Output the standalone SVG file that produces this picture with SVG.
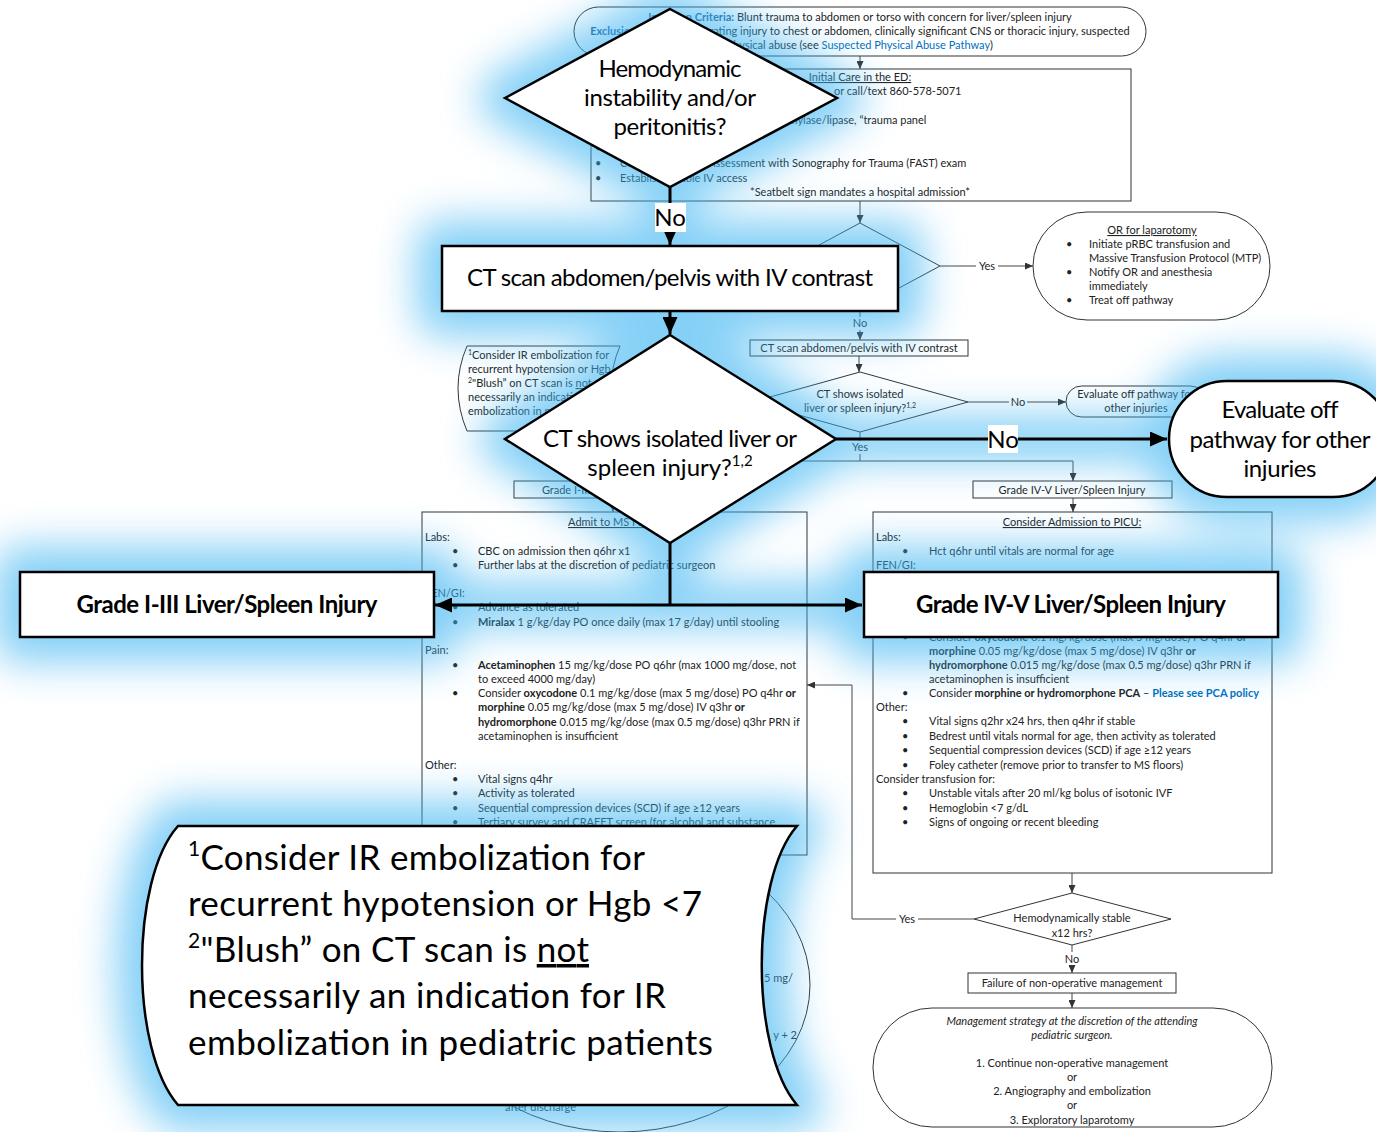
<svg xmlns="http://www.w3.org/2000/svg" width="1376" height="1132" viewBox="0 0 1376 1132">
<defs>
<style>
text{font-family:Lato,'Liberation Sans',sans-serif}
.s{font-size:11px;fill:#222}
.sc{font-size:11px;fill:#222;text-anchor:middle}
.bb{fill:#fff;stroke:#333;stroke-width:1}
.bl{fill:none;stroke:#444;stroke-width:1}
.lb{fill:#fff}
.ov{fill:#fff;stroke:#000;stroke-width:2.5}
.ot{font-size:24px;fill:#000;text-anchor:middle}
.ft{font-size:35px;fill:#000}
.b{font-weight:bold}
.lk{fill:#0070c0}
.u{text-decoration:underline}
.gl{fill:#3bb4f2;stroke:#3bb4f2;stroke-width:52;stroke-linejoin:round}
.gc{fill:none;stroke:#3bb4f2;stroke-width:46}
.oc{fill:none;stroke:#000;stroke-width:3}
</style>
<filter id="blur" x="-10%" y="-10%" width="120%" height="120%"><feGaussianBlur stdDeviation="20"/></filter>
<marker id="ah" viewBox="0 0 10 10" refX="10" refY="5" markerWidth="17" markerHeight="15" markerUnits="userSpaceOnUse" orient="auto" preserveAspectRatio="none"><path d="M0,0 L10,5 L0,10 Z" fill="#000"/></marker>
<marker id="sa" viewBox="0 0 10 10" refX="10" refY="5" markerWidth="8" markerHeight="7" markerUnits="userSpaceOnUse" orient="auto" preserveAspectRatio="none"><path d="M0,0 L10,5 L0,10 Z" fill="#333"/></marker>
</defs>
<rect x="0" y="0" width="1376" height="1132" fill="#fff"/>

<!-- ===== background flowchart ===== -->
<g id="bg-connectors">
<path class="bl" d="M860,56 V69" marker-end="url(#sa)"/>
<path class="bl" d="M860,201 V223" marker-end="url(#sa)"/>
<path class="bl" d="M940,266 H1033" marker-end="url(#sa)"/>
<path class="bl" d="M860,309 V340" marker-end="url(#sa)"/>
<path class="bl" d="M859,356 V372" marker-end="url(#sa)"/>
<path class="bl" d="M968,402 H1066" marker-end="url(#sa)"/>
<path class="bl" d="M860,432 V461 M613,461 H1073"/>
<path class="bl" d="M1073,461 V481" marker-end="url(#sa)"/>
<path class="bl" d="M613,461 V481" marker-end="url(#sa)"/>
<path class="bl" d="M1073,498 V512" marker-end="url(#sa)"/>
<path class="bl" d="M613,498 V512" marker-end="url(#sa)"/>
<path class="bl" d="M1072,873 V893" marker-end="url(#sa)"/>
<path class="bl" d="M974,919 H852 V685 H807" marker-end="url(#sa)"/>
<path class="bl" d="M1072,945 V973" marker-end="url(#sa)"/>
<path class="bl" d="M1072,993 V1008" marker-end="url(#sa)"/>
<rect class="lb" x="976" y="259" width="22" height="13"/><text class="sc" x="987" y="270">Yes</text>
<rect class="lb" x="851" y="317" width="18" height="13"/><text class="sc" x="860" y="327">No</text>
<rect class="lb" x="1009" y="395" width="18" height="13"/><text class="sc" x="1018" y="406">No</text>
<rect class="lb" x="849" y="441" width="22" height="13"/><text class="sc" x="860" y="451">Yes</text>
<rect class="lb" x="896" y="912" width="22" height="13"/><text class="sc" x="907" y="923">Yes</text>
<rect class="lb" x="1063" y="952" width="18" height="13"/><text class="sc" x="1072" y="963">No</text>
</g>

<g id="bg-criteria">
<rect class="bb" x="574" y="7" width="572" height="49" rx="24.5"/>
<text class="sc" x="860" y="21"><tspan class="b" fill="#1f5f9f">Inclusion Criteria:</tspan> Blunt trauma to abdomen or torso with concern for liver/spleen injury</text>
<text class="sc" x="860" y="35"><tspan class="b" fill="#1f5f9f">Exclusion Criteria:</tspan> Penetrating injury to chest or abdomen, clinically significant CNS or thoracic injury, suspected</text>
<text class="sc" x="860" y="49">physical abuse (see <tspan class="lk">Suspected Physical Abuse Pathway</tspan>)</text>
</g>

<g id="bg-initial">
<rect class="bb" x="591" y="69" width="540" height="132"/>
<text class="sc u" x="860" y="81">Initial Care in the ED:</text>
<text class="s" x="834" y="95">or call/text 860-578-5071</text>
<text class="s" x="783" y="124">amylase/lipase, “trauma panel</text>
<text class="s" y="152"><tspan x="595">•</tspan></text>
<text class="s" y="167"><tspan x="595">•</tspan><tspan x="620">Consider Focused Assessment with Sonography for Trauma (FAST) exam</tspan></text>
<text class="s" y="182"><tspan x="595">•</tspan><tspan x="620">Establish reliable IV access</tspan></text>
<text class="sc" x="860" y="196">*Seatbelt sign mandates a hospital admission*</text>
</g>

<g id="bg-hemo-small"><path class="bb" d="M860,223 L940,266 L860,309 L780,266 Z"/></g>

<g id="bg-or">
<rect class="bb" x="1033" y="212" width="237" height="108" rx="54"/>
<text class="sc u" x="1152" y="234">OR for laparotomy</text>
<text class="s" y="248"><tspan x="1066">•</tspan><tspan x="1089">Initiate pRBC transfusion and</tspan></text>
<text class="s" x="1089" y="262">Massive Transfusion Protocol (MTP)</text>
<text class="s" y="276"><tspan x="1066">•</tspan><tspan x="1089">Notify OR and anesthesia</tspan></text>
<text class="s" x="1089" y="290">immediately</text>
<text class="s" y="304"><tspan x="1066">•</tspan><tspan x="1089">Treat off pathway</tspan></text>
</g>

<g id="bg-ct-small">
<rect class="bb" x="750" y="340" width="218" height="16"/>
<text class="sc" x="859" y="352">CT scan abdomen/pelvis with IV contrast</text>
</g>

<g id="bg-ctshows-small">
<path class="bb" d="M860,372 L968,402 L860,432 L752,402 Z"/>
<text class="sc" x="860" y="398">CT shows isolated</text>
<text class="sc" x="860" y="412">liver or spleen injury?<tspan font-size="7" dy="-4">1,2</tspan></text>
</g>

<g id="bg-evaluate-small">
<rect class="bb" x="1066" y="386" width="140" height="31" rx="15.5"/>
<text class="sc" x="1136" y="398">Evaluate off pathway for</text>
<text class="sc" x="1136" y="412">other injuries</text>
</g>

<g id="bg-note-small">
<path class="bb" d="M467,346 L620,346 Q602,388 620,431 L467,431 Q449,388 467,346 Z"/>
<text class="s" x="468" y="359"><tspan font-size="7" dy="-4">1</tspan><tspan dy="4">Consider IR embolization for</tspan></text>
<text class="s" x="468" y="373">recurrent hypotension or Hgb &lt;7</text>
<text class="s" x="468" y="387"><tspan font-size="7" dy="-4">2</tspan><tspan dy="4">"Blush” on CT scan is </tspan><tspan class="u">not</tspan></text>
<text class="s" x="468" y="401">necessarily an indication for IR</text>
<text class="s" x="468" y="415">embolization in pediatric patients</text>
</g>

<g id="bg-grade13-small">
<rect class="bb" x="514" y="481" width="199" height="17"/>
<text class="sc" x="613" y="494">Grade I-III Liver/Spleen Injury</text>
</g>
<g id="bg-grade45-small">
<rect class="bb" x="973" y="481" width="199" height="17"/>
<text class="sc" x="1072" y="494">Grade IV-V Liver/Spleen Injury</text>
</g>

<g id="bg-discharge">
<ellipse class="bb" cx="620" cy="985" rx="190" ry="147"/>
<text class="s" x="793" y="982" text-anchor="end">5 mg/</text>
<text class="s" x="797" y="1039" text-anchor="end">y + 2</text>
<text class="s" x="505" y="1111">after discharge</text>
</g>

<g id="bg-ms">
<rect class="bb" x="422" y="512" width="385" height="343"/>
<text class="sc u" x="614" y="526">Admit to MS Floor:</text>
<text class="s" x="425" y="541">Labs:</text>
<text class="s" y="555"><tspan x="452">•</tspan><tspan x="478">CBC on admission then q6hr x1</tspan></text>
<text class="s" y="569"><tspan x="452">•</tspan><tspan x="478">Further labs at the discretion of pediatric surgeon</tspan></text>
<text class="s" x="425" y="597">FEN/GI:</text>
<text class="s" y="611"><tspan x="452">•</tspan><tspan x="478">Advance as tolerated</tspan></text>
<text class="s" y="626"><tspan x="452">•</tspan><tspan x="478" class="b">Miralax</tspan> 1 g/kg/day PO once daily (max 17 g/day) until stooling</text>
<text class="s" x="425" y="654">Pain:</text>
<text class="s" y="669"><tspan x="452">•</tspan><tspan x="478" class="b">Acetaminophen</tspan> 15 mg/kg/dose PO q6hr (max 1000 mg/dose, not</text>
<text class="s" x="478" y="683">to exceed 4000 mg/day)</text>
<text class="s" y="697"><tspan x="452">•</tspan><tspan x="478">Consider </tspan><tspan class="b">oxycodone</tspan> 0.1 mg/kg/dose (max 5 mg/dose) PO q4hr <tspan class="b">or</tspan></text>
<text class="s" x="478" y="711"><tspan class="b">morphine</tspan> 0.05 mg/kg/dose (max 5 mg/dose) IV q3hr <tspan class="b">or</tspan></text>
<text class="s" x="478" y="726"><tspan class="b">hydromorphone</tspan> 0.015 mg/kg/dose (max 0.5 mg/dose) q3hr PRN if</text>
<text class="s" x="478" y="740">acetaminophen is insufficient</text>
<text class="s" x="425" y="769">Other:</text>
<text class="s" y="783"><tspan x="452">•</tspan><tspan x="478">Vital signs q4hr</tspan></text>
<text class="s" y="797"><tspan x="452">•</tspan><tspan x="478">Activity as tolerated</tspan></text>
<text class="s" y="812"><tspan x="452">•</tspan><tspan x="478">Sequential compression devices (SCD) if age ≥12 years</tspan></text>
<text class="s" y="826"><tspan x="452">•</tspan><tspan x="478">Tertiary survey and CRAFFT screen (for alcohol and substance</tspan></text>
</g>

<g id="bg-picu">
<rect class="bb" x="873" y="512" width="399" height="361"/>
<text class="sc u" x="1072" y="526">Consider Admission to PICU:</text>
<text class="s" x="876" y="541">Labs:</text>
<text class="s" y="555"><tspan x="902">•</tspan><tspan x="929">Hct q6hr until vitals are normal for age</tspan></text>
<text class="s" x="876" y="569">FEN/GI:</text>
<text class="s" y="641"><tspan x="902">•</tspan><tspan x="929">Consider </tspan><tspan class="b">oxycodone</tspan> 0.1 mg/kg/dose (max 5 mg/dose) PO q4hr <tspan class="b">or</tspan></text>
<text class="s" x="929" y="655"><tspan class="b">morphine</tspan> 0.05 mg/kg/dose (max 5 mg/dose) IV q3hr <tspan class="b">or</tspan></text>
<text class="s" x="929" y="669"><tspan class="b">hydromorphone</tspan> 0.015 mg/kg/dose (max 0.5 mg/dose) q3hr PRN if</text>
<text class="s" x="929" y="683">acetaminophen is insufficient</text>
<text class="s" y="697"><tspan x="902">•</tspan><tspan x="929">Consider </tspan><tspan class="b">morphine or hydromorphone PCA</tspan> – <tspan class="b lk">Please see PCA policy</tspan></text>
<text class="s" x="876" y="711">Other:</text>
<text class="s" y="725"><tspan x="902">•</tspan><tspan x="929">Vital signs q2hr x24 hrs, then q4hr if stable</tspan></text>
<text class="s" y="740"><tspan x="902">•</tspan><tspan x="929">Bedrest until vitals normal for age, then activity as tolerated</tspan></text>
<text class="s" y="754"><tspan x="902">•</tspan><tspan x="929">Sequential compression devices (SCD) if age ≥12 years</tspan></text>
<text class="s" y="769"><tspan x="902">•</tspan><tspan x="929">Foley catheter (remove prior to transfer to MS floors)</tspan></text>
<text class="s" x="876" y="783">Consider transfusion for:</text>
<text class="s" y="797"><tspan x="902">•</tspan><tspan x="929">Unstable vitals after 20 ml/kg bolus of isotonic IVF</tspan></text>
<text class="s" y="812"><tspan x="902">•</tspan><tspan x="929">Hemoglobin &lt;7 g/dL</tspan></text>
<text class="s" y="826"><tspan x="902">•</tspan><tspan x="929">Signs of ongoing or recent bleeding</tspan></text>
</g>

<g id="bg-stable">
<path class="bb" d="M1072,893 L1171,919 L1072,945 L974,919 Z"/>
<text class="sc" x="1072" y="922">Hemodynamically stable</text>
<text class="sc" x="1072" y="937">x12 hrs?</text>
</g>

<g id="bg-failure">
<rect class="bb" x="968" y="973" width="208" height="20"/>
<text class="sc" x="1072" y="987">Failure of non-operative management</text>
</g>

<g id="bg-strategy">
<rect class="bb" x="873" y="1008" width="399" height="119" rx="59"/>
<text class="sc" x="1072" y="1025" font-style="italic">Management strategy at the discretion of the attending</text>
<text class="sc" x="1072" y="1039" font-style="italic">pediatric surgeon.</text>
<text class="sc" x="1072" y="1067">1. Continue non-operative management</text>
<text class="sc" x="1072" y="1081">or</text>
<text class="sc" x="1072" y="1095">2. Angiography and embolization</text>
<text class="sc" x="1072" y="1109">or</text>
<text class="sc" x="1072" y="1124">3. Exploratory laparotomy</text>
</g>

<!-- ===== glow ===== -->
<g id="glow" filter="url(#blur)" opacity="0.62">
<polygon class="gl" points="670,9 837,98 670,187 505,98"/>
<rect class="gl" x="442" y="246" width="456" height="65"/>
<polygon class="gl" points="670,335 836,439 670,543 505,439"/>
<rect class="gl" x="1169" y="381" width="222" height="116" rx="58"/>
<rect class="gl" x="20" y="572" width="414" height="65"/>
<rect class="gl" x="864" y="572" width="414" height="65"/>
<path class="gl" d="M178,826 L797,826 C750,880 750,1050 797,1105 L178,1105 C130,1050 130,880 178,826 Z"/>
<path class="gc" d="M670,187 V335 M836,439 H1168 M670,543 V605 M435,605 H862"/>
</g>

<!-- ===== overlay flowchart ===== -->
<g id="connectors">
<path class="oc" d="M670,187 V245" marker-end="url(#ah)"/>
<path class="oc" d="M670,311 V334" marker-end="url(#ah)"/>
<path class="oc" d="M836,439 H1167" marker-end="url(#ah)"/>
<path class="oc" d="M670,543 V605"/>
<path class="oc" d="M670,605 H435" marker-end="url(#ah)"/>
<path class="oc" d="M670,605 H862" marker-end="url(#ah)"/>
<rect x="655" y="203" width="31" height="29" fill="#fff"/>
<text class="ot" x="670" y="226">No</text>
<rect x="988" y="425" width="30" height="28" fill="#fff"/>
<text class="ot" x="1003" y="448">No</text>
</g>

<g id="node-hemodynamic">
<polygon class="ov" points="670,9 837,98 670,187 505,98"/>
<text class="ot" x="670" y="77" textLength="143">Hemodynamic</text>
<text class="ot" x="670" y="106" textLength="172">instability and/or</text>
<text class="ot" x="670" y="135" textLength="113">peritonitis?</text>
</g>

<g id="node-ct">
<rect class="ov" x="442" y="246" width="456" height="65"/>
<text class="ot" x="670" y="286" textLength="406">CT scan abdomen/pelvis with IV contrast</text>
</g>

<g id="node-ctshows">
<polygon class="ov" points="670,335 836,439 670,543 505,439"/>
<text class="ot" x="670" y="447" textLength="254">CT shows isolated liver or</text>
<text class="ot" x="670" y="476">spleen injury?<tspan font-size="15" dy="-10">1,2</tspan></text>
</g>

<g id="node-evaluate">
<rect class="ov" x="1169" y="381" width="222" height="116" rx="58"/>
<text class="ot" x="1280" y="418" textLength="117">Evaluate off</text>
<text class="ot" x="1280" y="448" textLength="181">pathway for other</text>
<text class="ot" x="1280" y="477" textLength="73">injuries</text>
</g>

<g id="node-grade13">
<rect class="ov" x="20" y="572" width="414" height="65"/>
<text class="ot b" x="227" y="613" textLength="301">Grade I-III Liver/Spleen Injury</text>
</g>

<g id="node-grade45">
<rect class="ov" x="864" y="572" width="414" height="65"/>
<text class="ot b" x="1071" y="613" textLength="310">Grade IV-V Liver/Spleen Injury</text>
</g>

<g id="node-footnote">
<path class="ov" d="M178,826 L797,826 C750,880 750,1050 797,1105 L178,1105 C130,1050 130,880 178,826 Z"/>
<text class="ft" x="188" y="870" textLength="457"><tspan font-size="21" dy="-14">1</tspan><tspan dy="14">Consider IR embolization for</tspan></text>
<text class="ft" x="188" y="916" textLength="514">recurrent hypotension or Hgb &lt;7</text>
<text class="ft" x="188" y="962" textLength="401"><tspan font-size="21" dy="-14">2</tspan><tspan dy="14">"Blush” on CT scan is </tspan><tspan class="u">not</tspan></text>
<text class="ft" x="188" y="1008" textLength="478">necessarily an indication for IR</text>
<text class="ft" x="188" y="1055" textLength="525">embolization in pediatric patients</text>
</g>
</svg>
